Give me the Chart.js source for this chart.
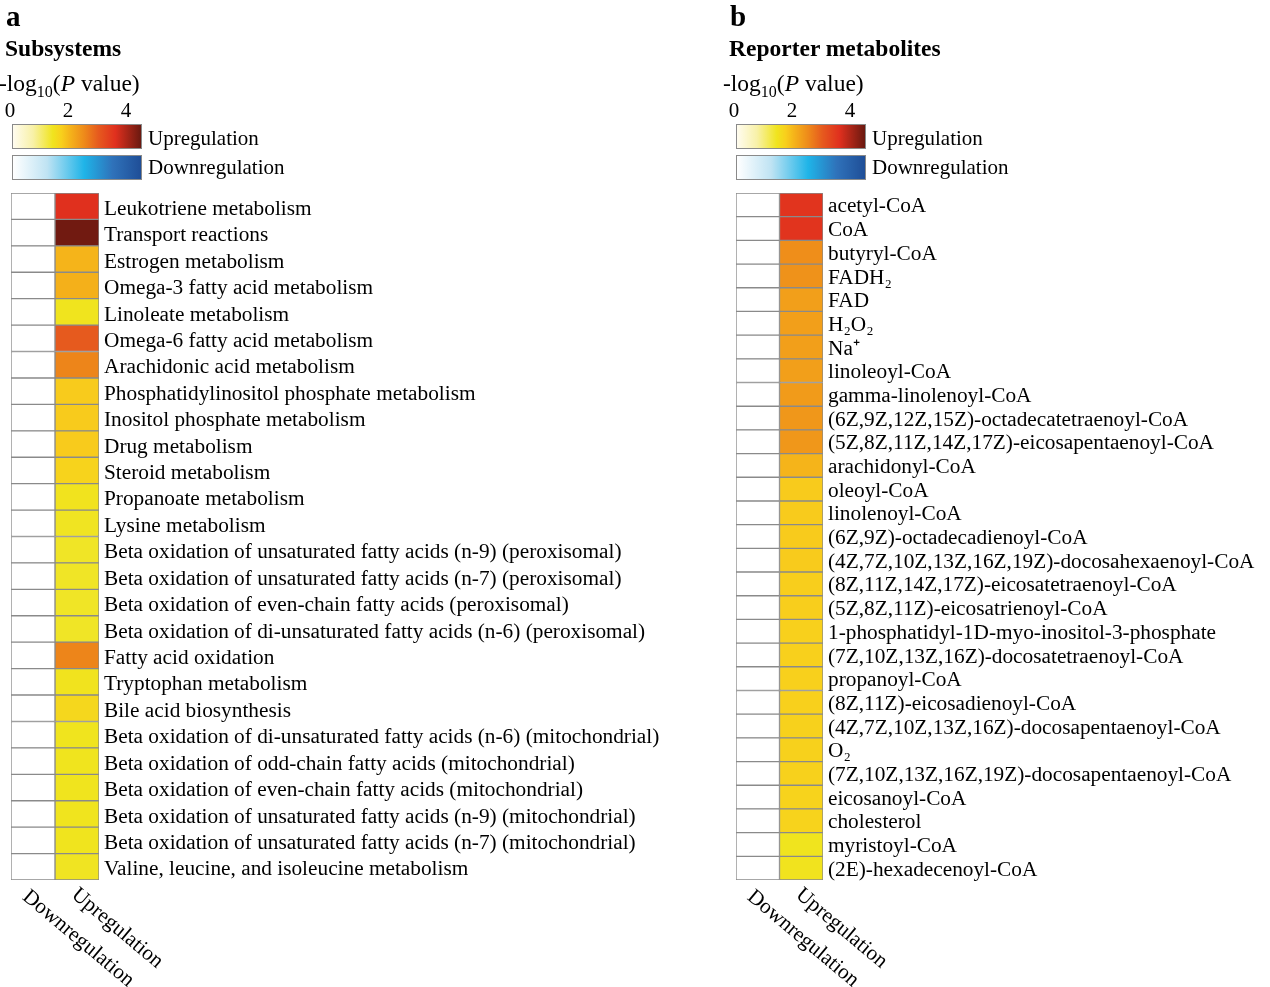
<!DOCTYPE html>
<html>
<head>
<meta charset="utf-8">
<script src="https://cdn.jsdelivr.net/npm/chart.js@4.4.1/dist/chart.umd.min.js"></script>
<style>
  html, body { margin: 0; padding: 0; background: #fff; }
  body { width: 1270px; height: 987px; position: relative; overflow: hidden;
         font-family: "Liberation Serif", "Times New Roman", serif; color: #000; }
  canvas { position: absolute; top: 0; }
  .t { position: absolute; white-space: nowrap; line-height: 1; }
  .big { font-weight: bold; font-size: 29px; }
  .head { font-weight: bold; font-size: 23.5px; }
  .axt { font-size: 23.5px; }
  .axt sub { font-size: 16px; vertical-align: -6px; line-height: 0; }
  .tick { font-size: 21px; transform: translateX(-50%); }
  .bar { position: absolute; height: 23px; width: 128px; border: 1px solid #8a8a8a; }
  .lg { font-size: 21px; }
</style>
</head>
<body>
<canvas id="chartA" width="720" height="987" style="left:0"></canvas>
<canvas id="chartB" width="550" height="987" style="left:720px"></canvas>
<div id="legends"></div>
<script>
// ---- data ----
const subsystems = [
  "Leukotriene metabolism",
  "Transport reactions",
  "Estrogen metabolism",
  "Omega-3 fatty acid metabolism",
  "Linoleate metabolism",
  "Omega-6 fatty acid metabolism",
  "Arachidonic acid metabolism",
  "Phosphatidylinositol phosphate metabolism",
  "Inositol phosphate metabolism",
  "Drug metabolism",
  "Steroid metabolism",
  "Propanoate metabolism",
  "Lysine metabolism",
  "Beta oxidation of unsaturated fatty acids (n-9) (peroxisomal)",
  "Beta oxidation of unsaturated fatty acids (n-7) (peroxisomal)",
  "Beta oxidation of even-chain fatty acids (peroxisomal)",
  "Beta oxidation of di-unsaturated fatty acids (n-6) (peroxisomal)",
  "Fatty acid oxidation",
  "Tryptophan metabolism",
  "Bile acid biosynthesis",
  "Beta oxidation of di-unsaturated fatty acids (n-6) (mitochondrial)",
  "Beta oxidation of odd-chain fatty acids (mitochondrial)",
  "Beta oxidation of even-chain fatty acids (mitochondrial)",
  "Beta oxidation of unsaturated fatty acids (n-9) (mitochondrial)",
  "Beta oxidation of unsaturated fatty acids (n-7) (mitochondrial)",
  "Valine, leucine, and isoleucine metabolism"
];
// -log10(P) upregulation / downregulation
const subsystemsUp = [3.6, 4.45, 2.0, 2.05, 1.4, 3.0, 2.55, 1.75, 1.75, 1.75, 1.65, 1.42, 1.38,
  1.36, 1.36, 1.36, 1.36, 2.55, 1.42, 1.6, 1.4, 1.4, 1.4, 1.4, 1.4, 1.38];
const subsystemsDown = [0, 0, 0, 0, 0, 0, 0, 0, 0, 0, 0, 0, 0, 0, 0, 0, 0, 0, 0, 0, 0, 0, 0, 0, 0, 0];

const metabolites = [
  "acetyl-CoA",
  "CoA",
  "butyryl-CoA",
  "FADH\u2082",
  "FAD",
  "H\u2082O\u2082",
  "Na\u207A",
  "linoleoyl-CoA",
  "gamma-linolenoyl-CoA",
  "(6Z,9Z,12Z,15Z)-octadecatetraenoyl-CoA",
  "(5Z,8Z,11Z,14Z,17Z)-eicosapentaenoyl-CoA",
  "arachidonyl-CoA",
  "oleoyl-CoA",
  "linolenoyl-CoA",
  "(6Z,9Z)-octadecadienoyl-CoA",
  "(4Z,7Z,10Z,13Z,16Z,19Z)-docosahexaenoyl-CoA",
  "(8Z,11Z,14Z,17Z)-eicosatetraenoyl-CoA",
  "(5Z,8Z,11Z)-eicosatrienoyl-CoA",
  "1-phosphatidyl-1D-myo-inositol-3-phosphate",
  "(7Z,10Z,13Z,16Z)-docosatetraenoyl-CoA",
  "propanoyl-CoA",
  "(8Z,11Z)-eicosadienoyl-CoA",
  "(4Z,7Z,10Z,13Z,16Z)-docosapentaenoyl-CoA",
  "O\u2082",
  "(7Z,10Z,13Z,16Z,19Z)-docosapentaenoyl-CoA",
  "eicosanoyl-CoA",
  "cholesterol",
  "myristoyl-CoA",
  "(2E)-hexadecenoyl-CoA"
];
const metabolitesUp = [3.55, 3.55, 2.45, 2.4, 2.25, 2.25, 2.25, 2.25, 2.3, 2.35, 2.35, 2.0, 1.75, 1.75,
  1.75, 1.75, 1.72, 1.72, 1.7, 1.7, 1.7, 1.7, 1.68, 1.68, 1.68, 1.66, 1.66, 1.4, 1.42];
const metabolitesDown = [0, 0, 0, 0, 0, 0, 0, 0, 0, 0, 0, 0, 0, 0, 0, 0, 0, 0, 0, 0, 0, 0, 0, 0, 0, 0, 0, 0, 0];

const columns = ["Downregulation", "Upregulation"];
const scaleTicks = [0, 2, 4];

// ---- colour scales (value -> colour) ----
const vMax = 4.5;
const upStops = [[0, "#fffcf0"], [0.7, "#f8f1a8"], [1.4, "#f0e41e"], [1.7, "#f8d01c"], [2.0, "#f5b41a"],
  [2.5, "#ee8a1a"], [3.0, "#e65a1e"], [3.6, "#e0301e"], [4.5, "#6a1910"]];
const downStops = [[0, "#ffffff"], [1.2, "#bfe3f3"], [2.5, "#1fb4e8"], [3.5, "#2f72ba"], [4.5, "#1f4e97"]];

function hex(c) { return [1, 3, 5].map(i => parseInt(c.slice(i, i + 2), 16)); }
function colorAt(stops, v) {
  if (v <= stops[0][0]) return stops[0][1];
  for (let i = 1; i < stops.length; i++) {
    if (v <= stops[i][0]) {
      const [v0, c0] = stops[i - 1], [v1, c1] = stops[i];
      const t = (v - v0) / (v1 - v0), a = hex(c0), b = hex(c1);
      return "rgb(" + a.map((x, k) => Math.round(x + (b[k] - x) * t)).join(",") + ")";
    }
  }
  return stops[stops.length - 1][1];
}
function gradient(stops) {
  return "linear-gradient(to right," + stops.map(s => s[1] + " " + (s[0] / vMax * 100).toFixed(1) + "%").join(",") + ")";
}

const serif = '"Liberation Serif", "Times New Roman", serif';

// rotated column labels under the heat map
const columnLabels = {
  id: "columnLabels",
  afterDraw(chart) {
    const { ctx, chartArea, scales } = chart;
    ctx.save();
    ctx.font = "21.3px " + serif;
    ctx.fillStyle = "#000";
    ctx.textBaseline = "top";
    ctx.textAlign = "left";
    columns.forEach((lab, i) => {
      const x = scales.x.getPixelForValue(i + 0.5);
      ctx.save();
      ctx.translate(x - 1 + i * 5, chartArea.bottom + 6 - i * 2);
      ctx.rotate(40 * Math.PI / 180);
      ctx.fillText(lab, 0, 0);
      ctx.restore();
    });
    ctx.restore();
  }
};

function heatmap(id, labels, down, up, padLeft, rightEdge, canvasW, nudge) {
  const ones = labels.map(() => 1);
  return new Chart(document.getElementById(id), {
    type: "bar",
    data: {
      labels: labels,
      datasets: [
        { label: columns[0], data: ones, backgroundColor: down.map(v => colorAt(downStops, v)) },
        { label: columns[1], data: ones, backgroundColor: up.map(v => colorAt(upStops, v)) }
      ]
    },
    options: {
      indexAxis: "y",
      responsive: false,
      animation: false,
      devicePixelRatio: 1,
      layout: { padding: { left: padLeft, top: 193, right: 0, bottom: 0 } },
      datasets: {
        bar: { barPercentage: 1, categoryPercentage: 1, borderWidth: 1, borderColor: "#8a8a8a", borderSkipped: false }
      },
      plugins: { legend: { display: false }, tooltip: { enabled: false } },
      scales: {
        x: {
          type: "linear", min: 0, max: 2, stacked: true,
          ticks: { display: false }, grid: { display: false }, border: { display: false },
          afterFit: s => { s.height = 107; }
        },
        y: {
          type: "category", position: "right", stacked: true,
          grid: { display: false, drawTicks: false }, border: { display: false },
          ticks: { color: "#000", padding: 5, labelOffset: nudge, autoSkip: false, font: { family: serif, size: 21.3 } },
          afterFit: s => { s.width = canvasW - rightEdge; }
        }
      }
    },
    plugins: [columnLabels]
  });
}

heatmap("chartA", subsystems, subsystemsDown, subsystemsUp, 11, 99, 720, 3);
heatmap("chartB", metabolites, metabolitesDown, metabolitesUp, 16, 103, 550, 2);

// ---- headings and colour-bar legends ----
function legend(x0, letter, title) {
  const box = document.getElementById("legends");
  const add = (cls, left, top, html) => {
    const d = document.createElement("div");
    d.className = cls; d.style.left = left + "px"; d.style.top = top + "px"; d.innerHTML = html;
    box.appendChild(d); return d;
  };
  add("t big", x0 + 6, 2, letter);
  add("t head", x0 + 5, 37, title);
  add("t axt", x0 - 1, 72, "-log<sub>10</sub>(<i>P</i> value)");
  scaleTicks.forEach(v => add("t tick", x0 + 10 + v * 29, 100, String(v)));
  add("bar", x0 + 12, 124, "").style.background = gradient(upStops);
  add("bar", x0 + 12, 155, "").style.background = gradient(downStops);
  add("t lg", x0 + 148, 128, columns[1]);
  add("t lg", x0 + 148, 157, columns[0]);
}
legend(0, "a", "Subsystems");
legend(724, "b", "Reporter metabolites");
</script>
</body>
</html>
